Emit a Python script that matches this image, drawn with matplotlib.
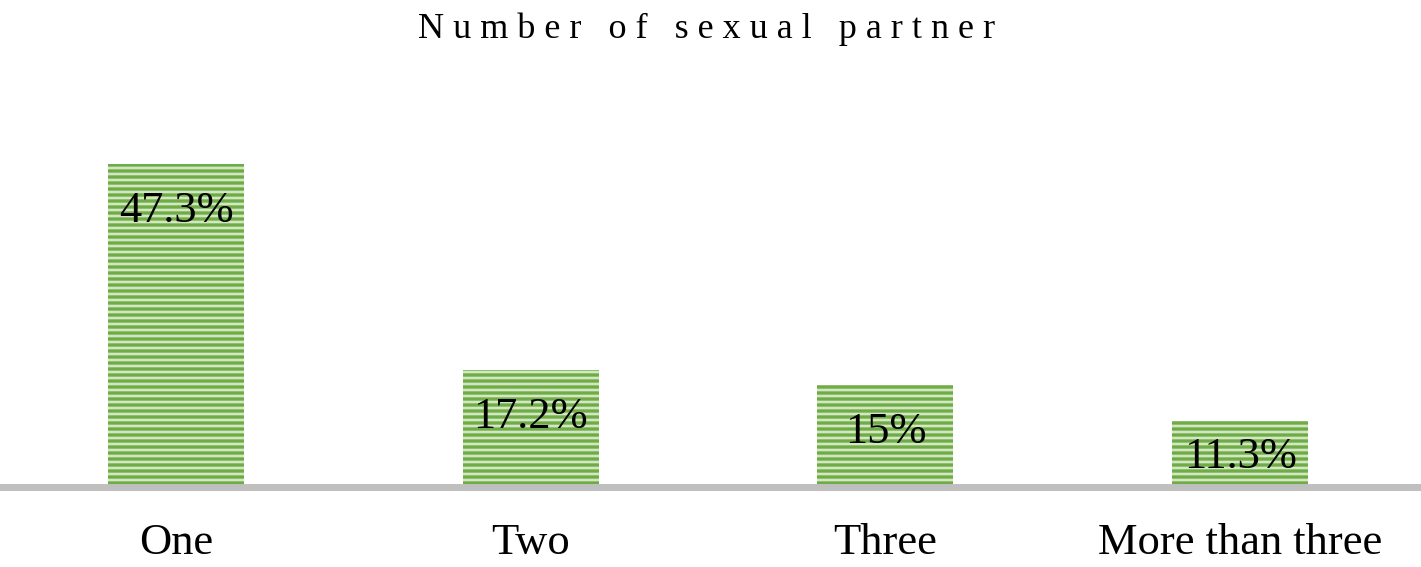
import matplotlib
matplotlib.use("Agg")
import matplotlib.pyplot as plt

categories = ["One", "Two", "Three", "More than three"]
bar_heights = [47.3, 17.2, 15.0, 9.6]
label_values = [47.3, 17.2, 15.0, 11.3]
label_texts = ["47.3%", "17.2%", "15%", "11.3%"]
title = "Number of sexual partner"

DPI = 108
S = 100 / DPI  # convert sizes designed for 100 dpi

plt.rcParams['font.family'] = ['Liberation Serif', 'DejaVu Serif']
plt.rcParams['hatch.linewidth'] = 2.4 * S

W, H = 1421, 567
PX_PER_UNIT = 6.83
fig = plt.figure(figsize=(W / DPI, H / DPI), dpi=DPI)
ax = fig.add_axes([0, (H - 487) / H, 1, 407 / H])

x = list(range(len(categories)))
ax.bar(x, bar_heights, width=0.383, color='#d2e8c2', edgecolor='#6fac46',
       linewidth=0, hatch='---', zorder=2)

for xi, v, t in zip(x, label_values, label_texts):
    ax.text(xi, v - 6.9, t, ha='center', va='center', fontsize=32 * S,
            color='black', zorder=3)

ax.set_xlim(-0.4962, 3.510)
ax.set_ylim(0, 407 / PX_PER_UNIT)
ax.set_xticks(x)
ax.set_xticklabels(categories, fontsize=32 * S)
ax.tick_params(axis='x', length=0, pad=26 * S)
ax.set_yticks([])
for s in ['top', 'left', 'right']:
    ax.spines[s].set_visible(False)
ax.spines['bottom'].set_color('#bfbfbf')
ax.spines['bottom'].set_linewidth(5 * S)
ax.spines['bottom'].set_zorder(4)

spaced = " ".join(title)
fig.text(0.4975, 1 - 29 / H, spaced, ha='center', va='center', fontsize=26 * S)

fig.savefig("out.png", dpi=DPI)
